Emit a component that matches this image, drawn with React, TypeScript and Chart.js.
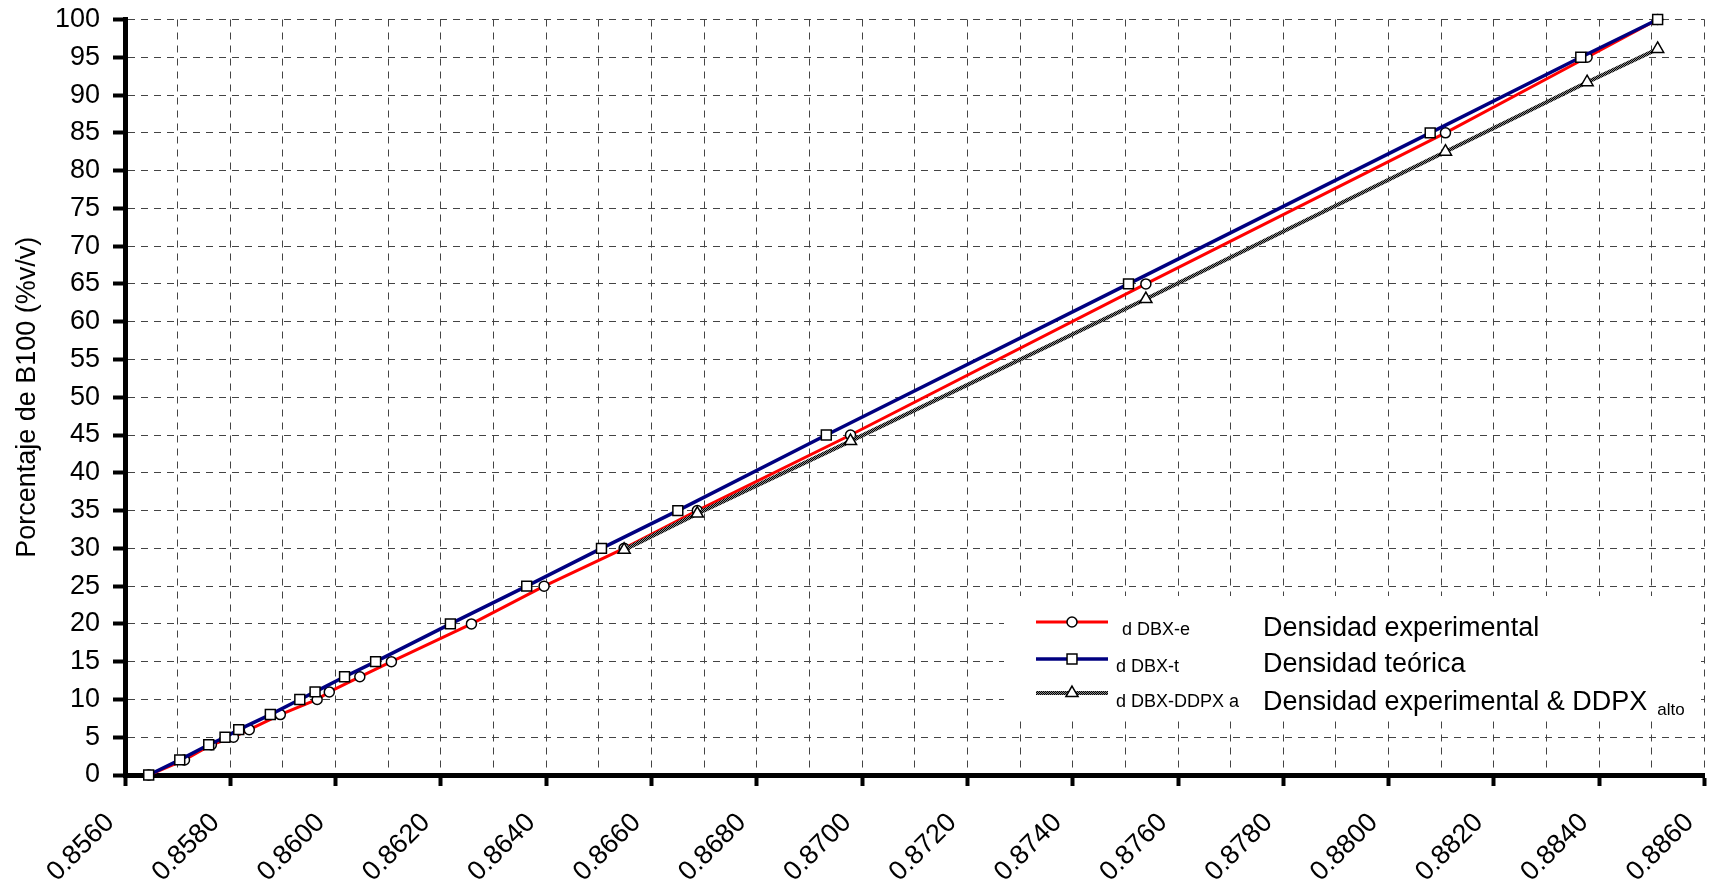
import React, { useEffect, useRef } from "react";
import { Chart, registerables } from "chart.js";

Chart.register(...registerables);

// ---- data ----
const percentages = [0, 2, 4, 5, 6, 8, 10, 11, 13, 15, 20, 25, 30, 35, 45, 65, 85, 95, 100];
const densityExperimental = [
  0.85645, 0.85713, 0.85764, 0.85806, 0.85836, 0.85895, 0.85965, 0.85988, 0.86046, 0.86106,
  0.86258, 0.86396, 0.86548, 0.86687, 0.86978, 0.87539, 0.88108, 0.88377, 0.88511,
];
const densityTheoretical = [
  0.85645, 0.85704, 0.85759, 0.8579, 0.85816, 0.85876, 0.85932, 0.85961, 0.86017, 0.86076,
  0.86218, 0.86363, 0.86505, 0.8665, 0.86932, 0.87506, 0.88079, 0.88365, 0.88511,
];
const ddpxDensity = [0.86548, 0.86687, 0.86978, 0.87539, 0.88108, 0.88377, 0.88511];
const ddpxPercent = [29.8, 34.6, 44.2, 63.0, 82.5, 91.7, 96.1];

const seriesLabels = ["d DBX-e", "d DBX-t", "d DBX-DDPX a"];
const seriesDescriptions = ["Densidad experimental", "Densidad teórica", "Densidad experimental & DDPX"];
const lastSubscript = "alto";
const yTitle = "Porcentaje de B100 (%v/v)";

const X_MIN = 0.856;
const X_MAX = 0.886;
const X_STEP = 0.001;
const Y_MIN = 0;
const Y_MAX = 100;
const Y_STEP = 5;

const FONT = '"Liberation Sans", Arial, Helvetica, sans-serif';

function makeHatch(ctx: CanvasRenderingContext2D): CanvasPattern | string {
  const c = document.createElement("canvas");
  c.width = 2;
  c.height = 2;
  const g = c.getContext("2d");
  if (!g) return "#444";
  g.fillStyle = "#8a8a8a";
  g.fillRect(0, 0, 2, 2);
  g.fillStyle = "#000";
  g.fillRect(0, 0, 1, 1);
  g.fillRect(1, 1, 1, 1);
  return ctx.createPattern(c, "repeat") || "#444";
}

function drawMarker(ctx: CanvasRenderingContext2D, style: string, x: number, y: number, r: number) {
  ctx.beginPath();
  if (style === "circle") {
    ctx.arc(x, y, r, 0, Math.PI * 2);
  } else if (style === "rect") {
    const s = Math.SQRT1_2 * r;
    ctx.rect(x - s, y - s, 2 * s, 2 * s);
  } else {
    let a = 0;
    ctx.moveTo(x + Math.sin(a) * r, y - Math.cos(a) * r);
    a += (2 * Math.PI) / 3;
    ctx.lineTo(x + Math.sin(a) * r, y - Math.cos(a) * r);
    a += (2 * Math.PI) / 3;
    ctx.lineTo(x + Math.sin(a) * r, y - Math.cos(a) * r);
    ctx.closePath();
  }
  ctx.fillStyle = "#fff";
  ctx.fill();
  ctx.lineWidth = 1.5;
  ctx.strokeStyle = "#000";
  ctx.stroke();
}

export default function App() {
  const canvasRef = useRef<HTMLCanvasElement | null>(null);

  useEffect(() => {
    document.body.style.margin = "0";
    const canvas = canvasRef.current;
    if (!canvas) return;
    const ctx0 = canvas.getContext("2d") as CanvasRenderingContext2D;
    const hatch = makeHatch(ctx0);

    const lineColors: (string | CanvasPattern)[] = ["#ff0000", "#000080", hatch];
    const lineWidths = [3, 3.5, 4];
    const markerStyles = ["circle", "rect", "triangle"];
    const markerRadii = [5, 7, 7];

    const legendPlugin = {
      id: "customLegend",
      afterDraw(chart: any) {
        const ctx: CanvasRenderingContext2D = chart.ctx;
        ctx.save();
        ctx.fillStyle = "#fff";
        ctx.fillRect(1004, 596, 694, 120);
        const lineYs = [622, 659, 693];
        const labelXs = [1122, 1116, 1116];
        const labelBase = [635, 672, 707];
        const descBase = [636, 672, 710];
        for (let i = 0; i < 3; i++) {
          ctx.beginPath();
          ctx.moveTo(1036, lineYs[i]);
          ctx.lineTo(1108, lineYs[i]);
          ctx.strokeStyle = lineColors[i] as any;
          ctx.lineWidth = lineWidths[i];
          ctx.stroke();
          drawMarker(ctx, markerStyles[i], 1072, lineYs[i], markerRadii[i]);
          ctx.fillStyle = "#000";
          ctx.textAlign = "left";
          ctx.textBaseline = "alphabetic";
          ctx.font = `18px ${FONT}`;
          ctx.fillText(seriesLabels[i], labelXs[i], labelBase[i]);
          ctx.font = `27px ${FONT}`;
          ctx.fillText(seriesDescriptions[i], 1263, descBase[i]);
          if (i === 2) {
            const w = ctx.measureText(seriesDescriptions[i]).width;
            ctx.font = `17px ${FONT}`;
            ctx.fillText(lastSubscript, 1263 + w + 10, descBase[i] + 5);
          }
        }
        ctx.restore();
      },
    };

    const makeData = (xs: number[], ys: number[]) => xs.map((x, i) => ({ x, y: ys[i] }));

    const chart = new Chart(canvas, {
      type: "line",
      data: {
        datasets: [
          {
            label: seriesLabels[0],
            data: makeData(densityExperimental, percentages),
            borderColor: lineColors[0] as any,
            borderWidth: lineWidths[0],
            pointStyle: "circle",
            pointRadius: markerRadii[0],
            pointBackgroundColor: "#fff",
            pointBorderColor: "#000",
            pointBorderWidth: 1.5,
            tension: 0,
            clip: false as any,
            order: 3,
          },
          {
            label: seriesLabels[1],
            data: makeData(densityTheoretical, percentages),
            borderColor: lineColors[1] as any,
            borderWidth: lineWidths[1],
            pointStyle: "rect",
            pointRadius: markerRadii[1],
            pointBackgroundColor: "#fff",
            pointBorderColor: "#000",
            pointBorderWidth: 1.5,
            tension: 0,
            clip: false as any,
            order: 2,
          },
          {
            label: seriesLabels[2],
            data: makeData(ddpxDensity, ddpxPercent),
            borderColor: lineColors[2] as any,
            borderWidth: lineWidths[2],
            pointStyle: "triangle",
            pointRadius: markerRadii[2],
            pointBackgroundColor: "#fff",
            pointBorderColor: "#000",
            pointBorderWidth: 1.5,
            tension: 0,
            clip: false as any,
            order: 1,
          },
        ],
      },
      options: {
        responsive: false,
        animation: false,
        devicePixelRatio: 1,
        events: [],
        layout: { padding: { left: 8, top: 19.5, right: 2, bottom: 0 } },
        plugins: {
          legend: { display: false },
          tooltip: { enabled: false },
        },
        scales: {
          x: {
            type: "linear",
            min: X_MIN,
            max: X_MAX,
            afterFit: (s: any) => {
              s.height = 110;
              s.paddingRight = 0;
              s.paddingLeft = 0;
            },
            ticks: {
              stepSize: X_STEP,
              maxTicksLimit: 100,
              autoSkip: false,
              minRotation: 45,
              maxRotation: 45,
              padding: 21,
              labelOffset: -15,
              color: "#000",
              font: { size: 27, family: FONT },
              callback: (v: any) => {
                const k = Math.round((Number(v) - X_MIN) / X_STEP);
                return k % 2 === 0 ? Number(v).toFixed(4) : "";
              },
            },
            grid: {
              color: "#444",
              lineWidth: 1,
              tickLength: 11,
              tickWidth: 4,
              tickColor: (c: any) => (c.index % 2 === 0 ? "#000" : "rgba(0,0,0,0)"),
            },
            border: { display: true, color: "#000", width: 5, dash: [7, 6] },
          },
          y: {
            min: Y_MIN,
            max: Y_MAX,
            afterFit: (s: any) => {
              s.width = 117;
              s.paddingTop = 0;
              s.paddingBottom = 0;
            },
            ticks: {
              stepSize: Y_STEP,
              maxTicksLimit: 100,
              autoSkip: false,
              padding: 13,
              color: "#000",
              font: { size: 27, family: FONT },
            },
            grid: {
              color: "#444",
              lineWidth: 1,
              tickLength: 12,
              tickWidth: 4,
              tickColor: "#000",
            },
            border: { display: true, color: "#000", width: 5, dash: [7, 6] },
            title: {
              display: true,
              text: yTitle,
              color: "#000",
              font: { size: 27, family: FONT },
              padding: { top: 3, bottom: 0 },
            },
          },
        },
      } as any,
      plugins: [legendPlugin],
    });

    return () => {
      chart.destroy();
    };
  }, []);

  return (
    <div style={{ position: "fixed", left: 0, top: 0, width: 1713, height: 885, background: "#fff" }}>
      <canvas ref={canvasRef} width={1713} height={885} style={{ display: "block" }} />
    </div>
  );
}
